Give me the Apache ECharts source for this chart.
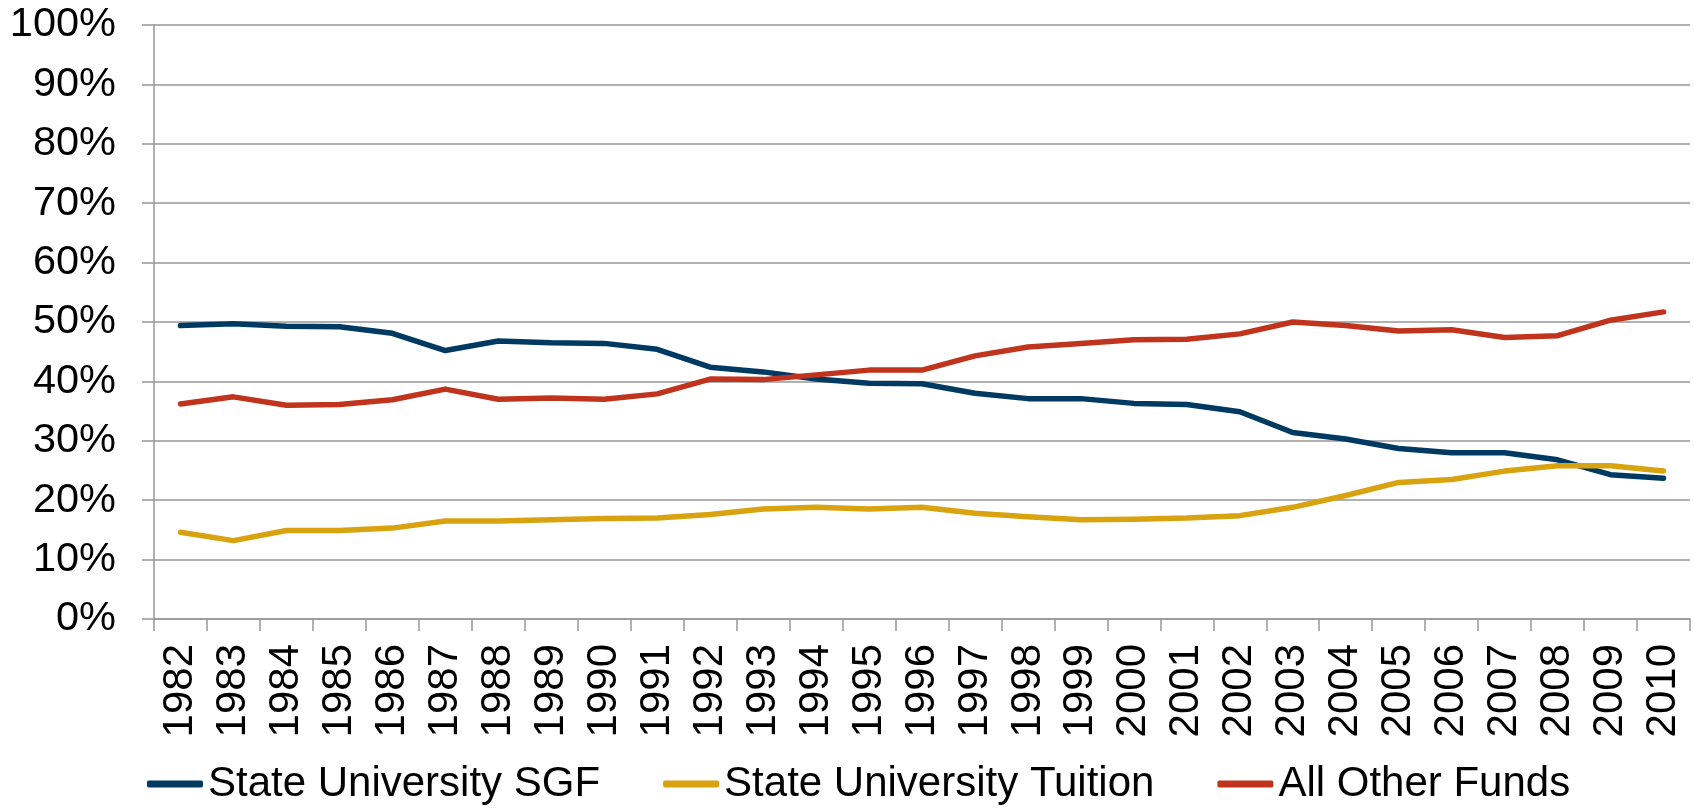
<!DOCTYPE html>
<html>
<head>
<meta charset="utf-8">
<script src="https://cdn.jsdelivr.net/npm/echarts@6/dist/echarts.min.js"></script>
<style>
  html, body { margin: 0; padding: 0; background: #fff; }
  #chart-container { width: 1694px; height: 811px; }
</style>
</head>
<body>
<div id="chart-container"></div>
<script>
var years = ['1982', '1983', '1984', '1985', '1986', '1987', '1988', '1989', '1990', '1991',
  '1992', '1993', '1994', '1995', '1996', '1997', '1998', '1999', '2000', '2001',
  '2002', '2003', '2004', '2005', '2006', '2007', '2008', '2009', '2010'];

var sgf = [49.4, 49.7, 49.3, 49.2, 48.1, 45.2, 46.8, 46.5, 46.4, 45.4,
  42.4, 41.6, 40.4, 39.7, 39.6, 38.0, 37.1, 37.1, 36.3, 36.1,
  34.9, 31.4, 30.3, 28.7, 28.0, 28.0, 26.8, 24.3, 23.7];

var tuition = [14.6, 13.2, 14.9, 14.9, 15.3, 16.5, 16.5, 16.7, 16.9, 17.0,
  17.6, 18.5, 18.8, 18.5, 18.8, 17.8, 17.2, 16.7, 16.8, 17.0,
  17.4, 18.8, 20.8, 23.0, 23.5, 24.9, 25.8, 25.8, 24.9];

var otherFunds = [36.2, 37.4, 36.0, 36.1, 36.9, 38.7, 37.0, 37.2, 37.0, 37.9,
  40.4, 40.3, 41.1, 41.9, 41.9, 44.3, 45.8, 46.4, 47.0, 47.1,
  48.0, 50.0, 49.4, 48.5, 48.7, 47.4, 47.7, 50.3, 51.7];

var seriesNames = ['State University SGF', 'State University Tuition', 'All Other Funds'];
var seriesColors = ['#003A63', '#D9A20F', '#C0341D'];

var dom = document.getElementById('chart-container');
var myChart = echarts.init(dom, null, { renderer: 'canvas' });

var FONT = 'Liberation Sans, Arial, sans-serif';
var gridGray = '#979797';

function lineSeries(name, data, color) {
  return {
    name: name,
    type: 'line',
    data: data,
    showSymbol: false,
    symbol: 'none',
    smooth: false,
    lineStyle: { color: color, width: 5.5, cap: 'round', join: 'round' },
    itemStyle: { color: color },
    animation: false
  };
}

var option = {
  animation: false,
  textStyle: { fontFamily: FONT },
  grid: { left: 154, right: 4, top: 25, bottom: 192, containLabel: false },
  legend: {
    left: 142,
    top: 757,
    itemWidth: 56,
    itemHeight: 7,
    itemGap: 63,
    icon: 'roundRect',
    data: seriesNames.map(function (n, i) {
      return { name: n, itemStyle: { color: seriesColors[i] } };
    }),
    textStyle: { fontFamily: FONT, fontSize: 42, color: '#000', lineHeight: 44, padding: [0, 0, 0, 0] }
  },
  xAxis: {
    type: 'category',
    data: years,
    boundaryGap: true,
    axisLine: { lineStyle: { color: gridGray, width: 1.5 } },
    axisTick: { show: true, length: 12, lineStyle: { color: gridGray, width: 1.5 } },
    axisLabel: {
      interval: 0,
      rotate: 90,
      margin: 25,
      fontSize: 42,
      color: '#000',
      fontFamily: FONT
    },
    splitLine: { show: false }
  },
  yAxis: {
    type: 'value',
    min: 0,
    max: 100,
    interval: 10,
    axisLine: { show: true, lineStyle: { color: gridGray, width: 1.5 } },
    axisTick: { show: true, length: 12, lineStyle: { color: gridGray, width: 1.5 } },
    axisLabel: {
      formatter: '{value}%',
      margin: 38,
      fontSize: 41.5,
      color: '#000',
      fontFamily: FONT
    },
    splitLine: { show: true, lineStyle: { color: gridGray, width: 1.5 } }
  },
  series: [
    lineSeries(seriesNames[0], sgf, seriesColors[0]),
    lineSeries(seriesNames[1], tuition, seriesColors[1]),
    lineSeries(seriesNames[2], otherFunds, seriesColors[2])
  ]
};

myChart.setOption(option);
window.addEventListener('resize', myChart.resize);
</script>
</body>
</html>
